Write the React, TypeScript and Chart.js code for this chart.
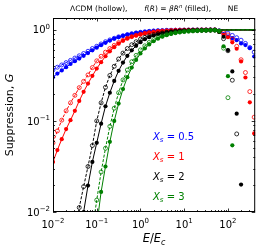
import React, { useEffect, useRef } from "react";
import { Chart, registerables } from "chart.js";
Chart.register(...registerables);

// log10(E/Ec) sample grid
const LOG_E = [-2.0, -1.9, -1.8, -1.7, -1.6, -1.5, -1.4, -1.3, -1.2, -1.1, -1.0, -0.9, -0.8, -0.7, -0.6, -0.5, -0.4, -0.3, -0.2, -0.1,
  0.0, 0.1, 0.2, 0.3, 0.4, 0.5, 0.6, 0.7, 0.8, 0.9, 1.0, 1.1, 1.2, 1.3, 1.4, 1.5, 1.6, 1.7, 1.8, 1.9, 2.0, 2.1, 2.2, 2.3, 2.4, 2.5, 2.6, 2.7];

// Model curves (lines), G at each grid point
const blueHollow = [0.363, 0.389, 0.412, 0.437, 0.462, 0.490, 0.519, 0.550, 0.582, 0.624, 0.661, 0.700, 0.741, 0.776, 0.809, 0.838, 0.863, 0.887, 0.908, 0.925,
  0.940, 0.953, 0.964, 0.973, 0.979, 0.984, 0.989, 0.991, 0.993, 0.995, 0.996, 0.997, 0.998, 0.998, 0.999, 0.999, 1, 1, 1, 1, 1, 1, 1, 1, 1, 1, 1, 1];
const blueFilled = [0.302, 0.331, 0.359, 0.389, 0.422, 0.452, 0.484, 0.519, 0.556, 0.596, 0.638, 0.679, 0.721, 0.762, 0.800, 0.832, 0.861, 0.885, 0.906, 0.925,
  0.940, 0.953, 0.964, 0.973, 0.979, 0.984, 0.989, 0.991, 0.993, 0.995, 0.996, 0.997, 0.998, 0.998, 0.999, 0.999, 1, 1, 1, 1, 1, 1, 1, 1, 1, 1, 1, 1];
const redHollow = [0.0575, 0.0776, 0.102, 0.129, 0.158, 0.191, 0.232, 0.272, 0.320, 0.385, 0.457, 0.513, 0.569, 0.624, 0.676, 0.724, 0.769, 0.809, 0.843, 0.871,
  0.895, 0.916, 0.933, 0.948, 0.962, 0.971, 0.977, 0.984, 0.989, 0.991, 0.993, 0.995, 0.996, 0.997, 0.998, 0.998, 0.999, 0.999, 1, 1, 1, 1, 1, 1, 1, 1, 1, 1];
const redFilled = [0.0355, 0.0479, 0.0631, 0.0813, 0.102, 0.129, 0.166, 0.209, 0.257, 0.313, 0.376, 0.442, 0.513, 0.582, 0.646, 0.705, 0.759, 0.804, 0.838, 0.867,
  0.891, 0.914, 0.933, 0.948, 0.962, 0.971, 0.977, 0.984, 0.989, 0.991, 0.993, 0.995, 0.996, 0.997, 0.998, 0.998, 0.999, 0.999, 1, 1, 1, 1, 1, 1, 1, 1, 1, 1];
const blackHollow = [null, null, null, null, 0.0035, 0.0063, 0.0112, 0.019, 0.0316, 0.0537, 0.100, 0.158, 0.234, 0.316, 0.398, 0.479, 0.556, 0.624, 0.687, 0.741,
  0.789, 0.828, 0.861, 0.887, 0.910, 0.927, 0.942, 0.955, 0.964, 0.971, 0.977, 0.982, 0.986, 0.989, 0.991, 0.993, 0.995, 0.996, 0.997, 0.998, 0.998, 0.999, 1, 1, 1, 1, 1, 1];
const blackFilled = [null, null, null, null, null, null, 0.005, 0.0100, 0.0195, 0.0355, 0.0575, 0.0933, 0.145, 0.204, 0.275, 0.355, 0.437, 0.519, 0.596, 0.668,
  0.733, 0.789, 0.832, 0.867, 0.895, 0.918, 0.937, 0.953, 0.964, 0.973, 0.979, 0.984, 0.989, 0.991, 0.993, 0.995, 0.996, 0.997, 0.998, 0.998, 0.999, 0.999, 1, 1, 1, 1, 1, 1];
const greenHollow = [null, null, null, null, null, null, null, null, null, 0.0063, 0.0135, 0.0275, 0.0501, 0.0871, 0.138, 0.204, 0.282, 0.363, 0.447, 0.525,
  0.603, 0.668, 0.728, 0.780, 0.822, 0.859, 0.889, 0.912, 0.931, 0.946, 0.957, 0.966, 0.973, 0.979, 0.984, 0.986, 0.989, 0.991, 0.993, 0.995, 0.996, 0.997, 0.998, 0.999, 1, 1, 1, 1];
const greenFilled = [null, null, null, null, null, null, null, null, null, null, 0.0071, 0.0166, 0.0316, 0.0589, 0.100, 0.155, 0.224, 0.302, 0.385, 0.468,
  0.550, 0.624, 0.692, 0.750, 0.800, 0.841, 0.875, 0.902, 0.925, 0.942, 0.955, 0.966, 0.973, 0.979, 0.984, 0.989, 0.991, 0.993, 0.995, 0.996, 0.997, 0.998, 0.999, 1, 1, 1, 1, 1];

// Marker values at log10(E/Ec) = 1.8 ... 2.7 (the high-energy drop-off)
const TAIL_START = 38;
const blueHollowTail = [0.98, 0.95, 0.92, 0.87, 0.82, 0.77, 0.71, 0.64, 0.57, null];
const blueFilledTail = [0.96, 0.90, 0.84, 0.81, 0.77, 0.71, 0.68, 0.63, 0.51, null];
const redHollowTail = [0.97, 0.93, 0.88, 0.79, 0.66, 0.47, 0.34, 0.21, 0.11, null];
const redFilledTail = [0.95, 0.88, 0.83, 0.73, 0.62, 0.45, 0.30, 0.16, 0.073, null];
const blackHollowTail = [0.96, 0.80, 0.59, 0.28, 0.072, null, null, null, null, null];
const blackFilledTail = [0.95, 0.84, 0.60, 0.35, 0.12, 0.020, null, null, null, null];
const greenHollowTail = [0.97, 0.63, 0.18, null, null, null, null, null, null, null];
const greenFilledTail = [0.97, 0.66, 0.31, 0.054, null, null, null, null, null, null];

const XS_LABELS = ["0.5", "1", "2", "3"];
const COLORS = ["#0000ff", "#ff0000", "#000000", "#008000"];
const X_MAJOR_EXP = [-2, -1, 0, 1, 2];
const Y_MAJOR_EXP = [-2, -1, 0];

const SERIES = [
  { color: COLORS[0], hollow: blueHollow, hollowTail: blueHollowTail, filled: blueFilled, filledTail: blueFilledTail },
  { color: COLORS[1], hollow: redHollow, hollowTail: redHollowTail, filled: redFilled, filledTail: redFilledTail },
  { color: COLORS[2], hollow: blackHollow, hollowTail: blackHollowTail, filled: blackFilled, filledTail: blackFilledTail },
  { color: COLORS[3], hollow: greenHollow, hollowTail: greenHollowTail, filled: greenFilled, filledTail: greenFilledTail },
];

const FONT = '"DejaVu Sans", sans-serif';
const f = (size: number, style = "normal") => `${style} ${size}px ${FONT}`;

function pts(vals: (number | null)[]) {
  return LOG_E.map((l, i) => ({ x: Math.pow(10, l), y: vals[i] }));
}
function withTail(model: (number | null)[], tail: (number | null)[]) {
  return model.slice(0, TAIL_START).concat(tail);
}

type Run = [string, string, number];
function drawRuns(ctx: CanvasRenderingContext2D, runs: Run[], x: number, y: number, align: string) {
  let total = 0;
  const widths = runs.map(([t, font]) => { ctx.font = font; const w = ctx.measureText(t).width; total += w; return w; });
  let cx = align === "center" ? x - total / 2 : align === "right" ? x - total : x;
  ctx.textAlign = "left";
  runs.forEach(([t, font, dy], i) => { ctx.font = font; ctx.fillText(t, cx, y + dy); cx += widths[i]; });
}
const expText = (e: number) => (e < 0 ? "\u2212" + -e : String(e));

const overlay = {
  id: "overlay",
  afterDraw(chart: any) {
    const { ctx, chartArea: a, scales } = chart;
    const xs = scales.x, ys = scales.y;
    ctx.save();
    ctx.strokeStyle = "#000";
    ctx.lineWidth = 1;
    ctx.strokeRect(a.left + 0.5, a.top + 0.5, a.right - a.left - 1, a.bottom - a.top - 1);
    ctx.lineWidth = 0.8;
    const seg = (x1: number, y1: number, x2: number, y2: number) => { ctx.beginPath(); ctx.moveTo(x1, y1); ctx.lineTo(x2, y2); ctx.stroke(); };
    for (let d = -2; d <= 2; d++) for (let m = 1; m <= 9; m++) {
      const v = m * Math.pow(10, d);
      if (v < xs.min || v > xs.max) continue;
      const px = Math.round(xs.getPixelForValue(v)) + 0.5;
      const len = m === 1 ? 3.5 : 2;
      seg(px, a.bottom, px, a.bottom - len);
      seg(px, a.top, px, a.top + len);
    }
    for (let d = -2; d <= 0; d++) for (let m = 1; m <= 9; m++) {
      const v = m * Math.pow(10, d);
      if (v < ys.min || v > ys.max) continue;
      const py = Math.round(ys.getPixelForValue(v)) + 0.5;
      const len = m === 1 ? 3.5 : 2;
      seg(a.left, py, a.left + len, py);
      seg(a.right, py, a.right - len, py);
    }
    ctx.fillStyle = "#000";
    ctx.textBaseline = "alphabetic";
    X_MAJOR_EXP.forEach((e) => {
      const px = xs.getPixelForValue(Math.pow(10, e));
      drawRuns(ctx, [["10", f(10), 0], [expText(e), f(7), -4.5]], px, a.bottom + 15.5, "center");
    });
    Y_MAJOR_EXP.forEach((e) => {
      const py = ys.getPixelForValue(Math.pow(10, e));
      drawRuns(ctx, [["10", f(10), 0], [expText(e), f(7), -4.5]], a.left - 3, py + 3.6, "right");
    });
    // axis labels
    drawRuns(ctx, [["E", f(11.5, "italic"), 0], ["/", f(11.5), 0], ["E", f(11.5, "italic"), 0], ["c", f(8, "italic"), 2.5]],
      (a.left + a.right) / 2, a.bottom + 30, "center");
    ctx.save();
    ctx.translate(13, (a.top + a.bottom) / 2);
    ctx.rotate(-Math.PI / 2);
    drawRuns(ctx, [["Suppression, ", f(11), 0], ["G", f(11, "italic"), 0]], 0, 0, "center");
    ctx.restore();
    // title
    const tf = 7.5;
    drawRuns(ctx, [
      ["\u039BCDM (hollow),", f(tf), 0],
      ["              ", f(tf * 0.5), 0],
      ["f", f(tf, "italic"), 0], ["(", f(tf), 0], ["R", f(tf, "italic"), 0], [")", f(tf), 0], [" = ", f(tf), 0],
      ["\u03B2", f(tf, "italic"), 0], ["R", f(tf, "italic"), 0], ["n", f(tf * 0.7, "italic"), -3], [" (filled),", f(tf), 0],
      ["              ", f(tf * 0.5), 0],
      ["NE", f(tf), 0],
    ], (a.left + a.right) / 2, 11, "center");
    // in-plot legend
    XS_LABELS.forEach((lab, i) => {
      ctx.fillStyle = COLORS[i];
      drawRuns(ctx, [["X", f(10, "italic"), 0], ["s", f(7, "italic"), 2.5], [" = " + lab, f(10), 0]], a.left + 100, a.top + 121.5 + i * 20, "left");
    });
    ctx.restore();
  },
};

export default function App() {
  const ref = useRef<HTMLCanvasElement>(null);
  useEffect(() => {
    const datasets: any[] = [];
    SERIES.forEach((s, i) => {
      const base = (4 - i) * 10;
      datasets.push({
        data: pts(s.hollow), borderColor: s.color, borderWidth: 1, borderDash: [3, 1.6], pointRadius: 0,
        fill: false, tension: 0, clip: 0, order: base + 4,
      });
      datasets.push({
        data: pts(s.filled), borderColor: s.color, borderWidth: 1, pointRadius: 0,
        fill: false, tension: 0, clip: 0, order: base + 3,
      });
      datasets.push({
        data: pts(withTail(s.hollow, s.hollowTail)), showLine: false, pointRadius: 2.0, pointStyle: "circle",
        pointBackgroundColor: "rgba(255,255,255,0)", pointBorderColor: s.color, pointBorderWidth: 0.8, clip: 0, order: base + 2,
      });
      datasets.push({
        data: pts(withTail(s.filled, s.filledTail)), showLine: false, pointRadius: 2.1, pointStyle: "circle",
        pointBackgroundColor: s.color, pointBorderColor: s.color, pointBorderWidth: 0, clip: 0, order: base + 1,
      });
    });
    const chart = new Chart(ref.current as HTMLCanvasElement, {
      type: "line",
      data: { datasets },
      options: {
        responsive: false,
        devicePixelRatio: 1,
        animation: false,
        events: [],
        layout: { padding: { top: 18, right: 3.5, left: 0, bottom: 0 } },
        plugins: { legend: { display: false }, tooltip: { enabled: false }, title: { display: false } },
        scales: {
          x: {
            type: "logarithmic", min: 0.01, max: 420,
            ticks: { display: false }, grid: { display: false, drawTicks: false }, border: { display: false },
            afterFit: (s: any) => { s.height = 37; },
          },
          y: {
            type: "logarithmic", min: 0.01, max: 1.35,
            ticks: { display: false }, grid: { display: false, drawTicks: false }, border: { display: false },
            afterFit: (s: any) => { s.width = 53; },
          },
        },
      } as any,
      plugins: [overlay],
    } as any);
    return () => chart.destroy();
  }, []);
  return (
    <div style={{ position: "fixed", left: 0, top: 0, width: 260, height: 249, background: "#fff" }}>
      <canvas ref={ref} width={260} height={249} style={{ width: 260, height: 249, display: "block" }} />
    </div>
  );
}
